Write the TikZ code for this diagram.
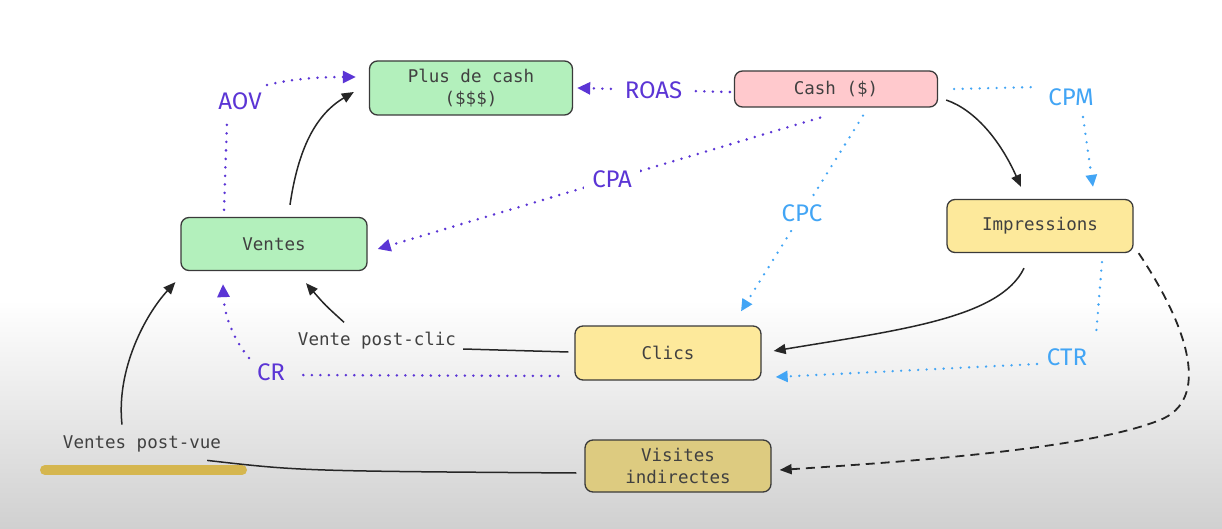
\documentclass[tikz,border=0pt]{standalone}
\usepackage{fontspec}
\setmonofont{DejaVu Sans Mono}
\newfontfamily\lblfont{Fira Sans}
\usetikzlibrary{arrows.meta,calc}
\definecolor{purp}{HTML}{5B35D5}
\definecolor{cblue}{HTML}{42A5F5}
\definecolor{gfill}{HTML}{B3F0BC}
\definecolor{pfill}{HTML}{FFC9CD}
\definecolor{yfill}{HTML}{FDE99B}
\definecolor{tfill}{HTML}{DDCB80}
\definecolor{edge}{HTML}{3A3A3A}
\definecolor{txt}{HTML}{404040}
\definecolor{hl}{HTML}{D5B64F}
\definecolor{bgG}{HTML}{D0D0D0}
\definecolor{ink}{HTML}{262626}
\begin{document}
\begin{tikzpicture}[x=1pt,y=-1pt,
  box/.style={draw=edge, line width=1.3pt, rounded corners=8pt, inner sep=0pt, align=center,
    font=\ttfamily\fontsize{17.5}{22}\selectfont, text=txt},
  lbl/.style={font=\lblfont\fontsize{24}{26}\selectfont, inner sep=2pt},
  plain/.style={font=\ttfamily\fontsize{17.5}{22}\selectfont, text=txt, inner sep=1pt},
  arrP/.style={-{Triangle[length=13pt,width=12pt]}},
  arrB/.style={-{Triangle[length=12pt,width=11pt]}},
  arrK/.style={-{Triangle[length=12pt,width=10pt]}},
  pd/.style={draw=purp, line width=2.8pt, line cap=round, dash pattern=on 0pt off 8.5pt},
  bd/.style={draw=cblue, line width=2.6pt, line cap=round, dash pattern=on 0pt off 8.5pt},
  sol/.style={draw=ink, line width=1.5pt},
  dsh/.style={draw=ink, line width=1.8pt, dash pattern=on 9pt off 6pt},
]
\fill[white] (0,0) rectangle (1222,529);
\shade[top color=white, bottom color=bgG] (0,300) rectangle (1222,529);
\useasboundingbox (0,0) rectangle (1222,529);

% nodes
\node[box, fill=gfill, minimum width=203pt, minimum height=54pt] (plus) at (471,88) {Plus de cash\\(\$\$\$)};
\node[box, fill=pfill, minimum width=203pt, minimum height=36pt] (cash) at (836,89) {Cash (\$)};
\node[box, fill=gfill, minimum width=186pt, minimum height=53pt] (ventes) at (274,244) {Ventes};
\node[box, fill=yfill, minimum width=186pt, minimum height=53pt] (imp) at (1040,226) {Impressions};
\node[box, fill=yfill, minimum width=186pt, minimum height=54pt] (clics) at (668,353) {Clics};
\node[box, fill=tfill, minimum width=186pt, minimum height=52pt] (vis) at (678,466) {Visites\\indirectes};

\node[lbl, text=purp] (aov) at (240,101) {AOV};
\node[lbl, text=cblue] (cpm) at (1071,97) {CPM};
\node[lbl, text=cblue] (ctr) at (1067,357) {CTR};
\node[lbl, text=purp] (cr) at (271,372) {CR};

\draw[hl, line width=10pt, line cap=round] (45,470) -- (242,470);
\node[plain] (vpc) at (377,341) {Vente post-clic};
\node[plain] (vpv) at (142,444) {Ventes post-vue};

% AOV
\coordinate (aovA) at (227,121);
\coordinate (aovB) at (267,85);
\draw[pd] ([xshift=-50pt,yshift=7pt]ventes.north) -- (aovA);
\draw[pd, arrP] (aovB) .. controls (295,78) and (325,77) .. ([xshift=-13pt,yshift=11pt]plus.west);

% Ventes -> Plus de cash
\draw[sol, arrK] ([xshift=16pt,yshift=12pt]ventes.north) .. controls (298,150) and (315,115) .. ([xshift=-15pt,yshift=-4pt]plus.west);

% ROAS
\draw[pd, arrP] ([xshift=-4pt,yshift=-3pt]cash.west) -- node[lbl, text=purp, fill=white, inner xsep=10pt] (roas) {ROAS} ([xshift=4pt]plus.east);

% CPA
\draw[pd, arrP] ([xshift=-16pt,yshift=-10pt]cash.south) -- node[pos=0.47, lbl, text=purp, fill=white, inner sep=8pt] (cpa) {CPA} ([xshift=10pt,yshift=-5pt]ventes.east);

% CPC
\draw[bd, arrB] ([xshift=27pt,yshift=-8pt]cash.south) -- node[pos=0.5, lbl, text=cblue, fill=white, inner sep=8pt] (cpc) {CPC} ([xshift=73pt,yshift=14pt]clics.north);

% Cash -> Impressions
\draw[sol, arrK] ([xshift=8pt,yshift=-11pt]cash.east) .. controls (975,110) and (1000,140) .. ([xshift=-19pt,yshift=12pt]imp.north);

% CPM
\coordinate (cpmA) at (1039,87);
\coordinate (cpmB) at (1083,117);
\draw[bd] ([xshift=16pt]cash.east) -- (cpmA);
\draw[bd, arrB] (cpmB) -- ([xshift=53pt,yshift=12pt]imp.north);

% Impressions -> Clics
\draw[sol, arrK] ([xshift=-16pt,yshift=-15pt]imp.south) .. controls (1000,318) and (900,330) .. ([xshift=12pt,yshift=2pt]clics.east);

% CTR
\coordinate (ctrA) at (1096,335);
\coordinate (ctrB) at (1037,364);
\draw[bd] ([xshift=62pt,yshift=-9pt]imp.south) -- (ctrA);
\draw[bd, arrB] (ctrB) -- ([xshift=14pt,yshift=-24pt]clics.east);

% Impressions -> Visites (dashed)
\draw[dsh, arrK] ([xshift=5pt]imp.south east) .. controls (1190,330) and (1210,400) .. (1160,420)
  .. controls (1085,450) and (900,462) .. ([xshift=8pt,yshift=-4pt]vis.east);

% Vente post-clic
\draw[sol] ([xshift=-6pt,yshift=1pt]clics.west) -- ([xshift=6pt,yshift=-8pt]vpc.east);
\draw[sol, arrK] ([xshift=-33pt,yshift=9pt]vpc.north) .. controls (325,305) .. ([xshift=32pt,yshift=-12pt]ventes.south);

% CR
\coordinate (crB) at (249,358);
\draw[pd] ([xshift=-16pt,yshift=-23pt]clics.west) -- ([xshift=8pt,yshift=-3pt]cr.east);
\draw[pd, arrP] (crB) .. controls (230,335) and (224,310) .. ([xshift=-51pt,yshift=-13pt]ventes.south);

% Ventes post-vue
\draw[sol] ([xshift=-8pt,yshift=-7pt]vis.west) .. controls (300,471) .. ([xshift=-15pt,yshift=-7pt]vpv.south east);
\draw[sol, arrK] ([xshift=-20pt,yshift=10pt]vpv.north) .. controls (116,370) and (145,315) .. ([xshift=-5pt,yshift=-11pt]ventes.south west);
\end{tikzpicture}
\end{document}
